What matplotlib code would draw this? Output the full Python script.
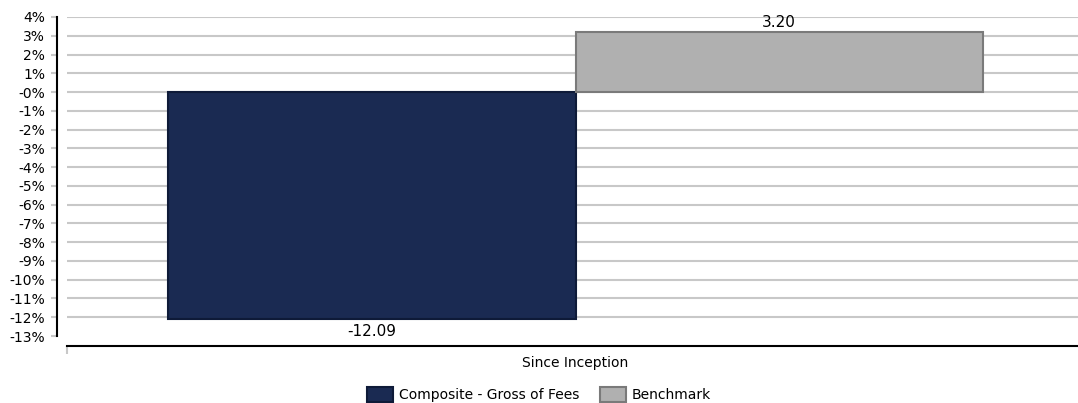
import numpy as np
import matplotlib.pyplot as plt
from matplotlib.patches import Patch

categories = ['Since Inception']
series = ['Composite - Gross of Fees', 'Benchmark']
values = [-12.09, 3.20]
colors = ['#1a2a52', '#b0b0b0']
edges = ['#0e1a38', '#7a7a7a']
yticks = list(range(-13, 5))

fig = plt.figure(figsize=(10.78, 4.03), dpi=100)
ax = fig.add_axes([67/1078, 1 - 346/403, (1078-67)/1078, (346-17)/403])

w = 0.403
offsets = [-w/2 + 0.003, w/2 + 0.003]
for i, s in enumerate(series):
    ax.bar(offsets[i], values[i], width=w, color=colors[i], edgecolor=edges[i],
           linewidth=1.5, zorder=3, label=s)
    if values[i] >= 0:
        ax.text(offsets[i], values[i] + 0.1, f'{values[i]:.2f}', ha='center', va='bottom', fontsize=11)
    else:
        ax.text(offsets[i], values[i] - 0.25, f'{values[i]:.2f}', ha='center', va='top', fontsize=11)

top = 4
bottom = 4 - (346 - 17) / ((336 - 17) / 17)
ax.set_ylim(bottom, top)
ax.set_xlim(-0.5, 0.5)

ax.set_yticks(yticks)
ax.set_yticklabels([('-0%' if t == 0 else f'{t}%') for t in yticks], fontsize=10.5)
for t in yticks[1:]:
    ax.axhline(t, color='#c8c8c8', lw=1.5, zorder=1)

ax.set_xticks([-0.5])
ax.set_xticklabels([''])
ax.text(0.003, -0.03, categories[0], transform=ax.get_xaxis_transform(),
        ha='center', va='top', fontsize=10)

ax.spines['top'].set_visible(False)
ax.spines['right'].set_visible(False)
ax.spines['left'].set_position(('outward', 7.2))
ax.spines['left'].set_bounds(-13, 4)
ax.spines['left'].set_linewidth(1.5)
ax.spines['bottom'].set_linewidth(1.5)
ax.tick_params(axis='y', length=4.3, width=1.5, color='#c8c8c8', pad=4.3)
ax.tick_params(axis='x', length=6, width=1.5, color='#c8c8c8')

handles = [Patch(facecolor=colors[i], edgecolor=edges[i], linewidth=1.5, label=series[i]) for i in range(2)]
fig.legend(handles=handles, loc='lower center', bbox_to_anchor=(0.5, -0.028), ncol=2,
           frameon=False, fontsize=10, handlelength=1.9, handleheight=1.3,
           handletextpad=0.4, columnspacing=1.5)

fig.savefig('out.png', dpi=100)
